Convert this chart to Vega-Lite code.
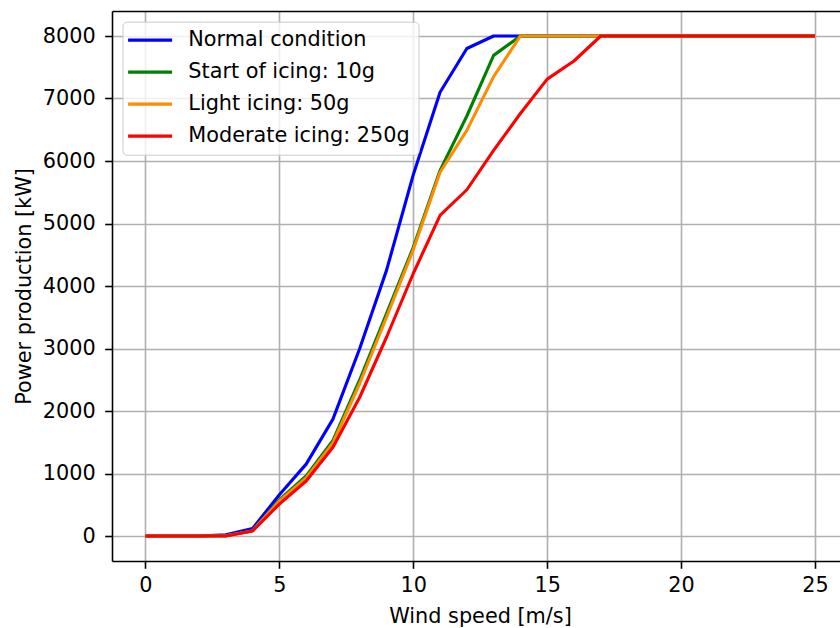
{
  "$schema": "https://vega.github.io/schema/vega-lite/v6.json",
  "autosize": {"type": "none"},
  "padding": {"left": 112, "top": 11, "right": 0, "bottom": 67},
  "width": 728,
  "height": 550,
  "background": "white",
  "config": {
    "view": {"stroke": null},
    "font": "DejaVu Sans",
    "axis": {
      "labelFont": "DejaVu Sans", "labelFontSize": 20.8, "labelColor": "black",
      "titleFont": "DejaVu Sans", "titleFontSize": 20.8, "titleFontWeight": "normal", "titleColor": "black",
      "tickColor": "black", "tickWidth": 1.6, "tickSize": 7.3,
      "domainColor": "black", "domainWidth": 1.6,
      "gridColor": "#b0b0b0", "gridWidth": 1.6
    },
    "legend": {
      "labelFont": "DejaVu Sans", "labelFontSize": 20.8, "labelColor": "black", "labelLimit": 400
    }
  },
  "data": {"values": [
    {"wind": 0, "power": 0, "curve": "Normal condition"},
    {"wind": 1, "power": 0, "curve": "Normal condition"},
    {"wind": 2, "power": 0, "curve": "Normal condition"},
    {"wind": 3, "power": 20, "curve": "Normal condition"},
    {"wind": 4, "power": 120, "curve": "Normal condition"},
    {"wind": 5, "power": 660, "curve": "Normal condition"},
    {"wind": 6, "power": 1150, "curve": "Normal condition"},
    {"wind": 7, "power": 1870, "curve": "Normal condition"},
    {"wind": 8, "power": 3000, "curve": "Normal condition"},
    {"wind": 9, "power": 4250, "curve": "Normal condition"},
    {"wind": 10, "power": 5780, "curve": "Normal condition"},
    {"wind": 11, "power": 7100, "curve": "Normal condition"},
    {"wind": 12, "power": 7800, "curve": "Normal condition"},
    {"wind": 13, "power": 8000, "curve": "Normal condition"},
    {"wind": 14, "power": 8000, "curve": "Normal condition"},
    {"wind": 15, "power": 8000, "curve": "Normal condition"},
    {"wind": 16, "power": 8000, "curve": "Normal condition"},
    {"wind": 17, "power": 8000, "curve": "Normal condition"},
    {"wind": 18, "power": 8000, "curve": "Normal condition"},
    {"wind": 19, "power": 8000, "curve": "Normal condition"},
    {"wind": 20, "power": 8000, "curve": "Normal condition"},
    {"wind": 21, "power": 8000, "curve": "Normal condition"},
    {"wind": 22, "power": 8000, "curve": "Normal condition"},
    {"wind": 23, "power": 8000, "curve": "Normal condition"},
    {"wind": 24, "power": 8000, "curve": "Normal condition"},
    {"wind": 25, "power": 8000, "curve": "Normal condition"},
    {"wind": 0, "power": 0, "curve": "Start of icing: 10g"},
    {"wind": 1, "power": 0, "curve": "Start of icing: 10g"},
    {"wind": 2, "power": 0, "curve": "Start of icing: 10g"},
    {"wind": 3, "power": 5, "curve": "Start of icing: 10g"},
    {"wind": 4, "power": 85, "curve": "Start of icing: 10g"},
    {"wind": 5, "power": 580, "curve": "Start of icing: 10g"},
    {"wind": 6, "power": 960, "curve": "Start of icing: 10g"},
    {"wind": 7, "power": 1530, "curve": "Start of icing: 10g"},
    {"wind": 8, "power": 2500, "curve": "Start of icing: 10g"},
    {"wind": 9, "power": 3560, "curve": "Start of icing: 10g"},
    {"wind": 10, "power": 4620, "curve": "Start of icing: 10g"},
    {"wind": 11, "power": 5850, "curve": "Start of icing: 10g"},
    {"wind": 12, "power": 6720, "curve": "Start of icing: 10g"},
    {"wind": 13, "power": 7690, "curve": "Start of icing: 10g"},
    {"wind": 14, "power": 8000, "curve": "Start of icing: 10g"},
    {"wind": 15, "power": 8000, "curve": "Start of icing: 10g"},
    {"wind": 16, "power": 8000, "curve": "Start of icing: 10g"},
    {"wind": 17, "power": 8000, "curve": "Start of icing: 10g"},
    {"wind": 18, "power": 8000, "curve": "Start of icing: 10g"},
    {"wind": 19, "power": 8000, "curve": "Start of icing: 10g"},
    {"wind": 20, "power": 8000, "curve": "Start of icing: 10g"},
    {"wind": 21, "power": 8000, "curve": "Start of icing: 10g"},
    {"wind": 22, "power": 8000, "curve": "Start of icing: 10g"},
    {"wind": 23, "power": 8000, "curve": "Start of icing: 10g"},
    {"wind": 24, "power": 8000, "curve": "Start of icing: 10g"},
    {"wind": 25, "power": 8000, "curve": "Start of icing: 10g"},
    {"wind": 0, "power": 0, "curve": "Light icing: 50g"},
    {"wind": 1, "power": 0, "curve": "Light icing: 50g"},
    {"wind": 2, "power": 0, "curve": "Light icing: 50g"},
    {"wind": 3, "power": 5, "curve": "Light icing: 50g"},
    {"wind": 4, "power": 80, "curve": "Light icing: 50g"},
    {"wind": 5, "power": 560, "curve": "Light icing: 50g"},
    {"wind": 6, "power": 930, "curve": "Light icing: 50g"},
    {"wind": 7, "power": 1490, "curve": "Light icing: 50g"},
    {"wind": 8, "power": 2440, "curve": "Light icing: 50g"},
    {"wind": 9, "power": 3500, "curve": "Light icing: 50g"},
    {"wind": 10, "power": 4580, "curve": "Light icing: 50g"},
    {"wind": 11, "power": 5820, "curve": "Light icing: 50g"},
    {"wind": 12, "power": 6490, "curve": "Light icing: 50g"},
    {"wind": 13, "power": 7350, "curve": "Light icing: 50g"},
    {"wind": 14, "power": 8000, "curve": "Light icing: 50g"},
    {"wind": 15, "power": 8000, "curve": "Light icing: 50g"},
    {"wind": 16, "power": 8000, "curve": "Light icing: 50g"},
    {"wind": 17, "power": 8000, "curve": "Light icing: 50g"},
    {"wind": 18, "power": 8000, "curve": "Light icing: 50g"},
    {"wind": 19, "power": 8000, "curve": "Light icing: 50g"},
    {"wind": 20, "power": 8000, "curve": "Light icing: 50g"},
    {"wind": 21, "power": 8000, "curve": "Light icing: 50g"},
    {"wind": 22, "power": 8000, "curve": "Light icing: 50g"},
    {"wind": 23, "power": 8000, "curve": "Light icing: 50g"},
    {"wind": 24, "power": 8000, "curve": "Light icing: 50g"},
    {"wind": 25, "power": 8000, "curve": "Light icing: 50g"},
    {"wind": 0, "power": 0, "curve": "Moderate icing: 250g"},
    {"wind": 1, "power": 0, "curve": "Moderate icing: 250g"},
    {"wind": 2, "power": 0, "curve": "Moderate icing: 250g"},
    {"wind": 3, "power": 0, "curve": "Moderate icing: 250g"},
    {"wind": 4, "power": 80, "curve": "Moderate icing: 250g"},
    {"wind": 5, "power": 510, "curve": "Moderate icing: 250g"},
    {"wind": 6, "power": 880, "curve": "Moderate icing: 250g"},
    {"wind": 7, "power": 1420, "curve": "Moderate icing: 250g"},
    {"wind": 8, "power": 2220, "curve": "Moderate icing: 250g"},
    {"wind": 9, "power": 3180, "curve": "Moderate icing: 250g"},
    {"wind": 10, "power": 4200, "curve": "Moderate icing: 250g"},
    {"wind": 11, "power": 5130, "curve": "Moderate icing: 250g"},
    {"wind": 12, "power": 5540, "curve": "Moderate icing: 250g"},
    {"wind": 13, "power": 6170, "curve": "Moderate icing: 250g"},
    {"wind": 14, "power": 6760, "curve": "Moderate icing: 250g"},
    {"wind": 15, "power": 7310, "curve": "Moderate icing: 250g"},
    {"wind": 16, "power": 7600, "curve": "Moderate icing: 250g"},
    {"wind": 17, "power": 8000, "curve": "Moderate icing: 250g"},
    {"wind": 18, "power": 8000, "curve": "Moderate icing: 250g"},
    {"wind": 19, "power": 8000, "curve": "Moderate icing: 250g"},
    {"wind": 20, "power": 8000, "curve": "Moderate icing: 250g"},
    {"wind": 21, "power": 8000, "curve": "Moderate icing: 250g"},
    {"wind": 22, "power": 8000, "curve": "Moderate icing: 250g"},
    {"wind": 23, "power": 8000, "curve": "Moderate icing: 250g"},
    {"wind": 24, "power": 8000, "curve": "Moderate icing: 250g"},
    {"wind": 25, "power": 8000, "curve": "Moderate icing: 250g"}
  ]},
  "layer": [
    {
      "mark": {"type": "line", "strokeWidth": 3.1, "strokeJoin": "round"},
      "encoding": {
        "x": {
          "field": "wind", "type": "quantitative",
          "scale": {"domain": [-1.25, 25.934], "nice": false, "zero": false},
          "axis": {"title": "Wind speed [m/s]", "format": "d", "values": [0, 5, 10, 15, 20, 25], "labelPadding": 7, "titlePadding": 11.5, "titleX": 368, "titleAnchor": "middle"}
        },
        "y": {
          "field": "power", "type": "quantitative",
          "scale": {"domain": [-400, 8400], "nice": false, "zero": false},
          "axis": {"title": "Power production [kW]", "format": "d", "values": [0, 1000, 2000, 3000, 4000, 5000, 6000, 7000, 8000], "labelPadding": 9.5, "titlePadding": 8}
        },
        "color": {
          "field": "curve", "type": "nominal",
          "scale": {
            "domain": ["Normal condition", "Start of icing: 10g", "Light icing: 50g", "Moderate icing: 250g"],
            "range": ["#0000ff", "#008000", "#ff8c00", "#ff0000"]
          },
          "legend": {
            "title": null, "orient": "none", "legendX": 10.5, "legendY": 10.7,
            "padding": 8, "fillColor": "rgba(255,255,255,0.8)", "strokeColor": "#cccccc", "cornerRadius": 4,
            "symbolType": "M-1.6,0H3.9", "symbolSize": 256, "symbolStrokeWidth": 3.1, "rowPadding": 10, "labelOffset": 37
          }
        }
      }
    },
    {
      "mark": {"type": "line", "opacity": 0},
      "encoding": {
        "x": {
          "field": "wind", "type": "quantitative",
          "axis": {"orient": "top", "labels": false, "ticks": false, "grid": false, "title": null, "domain": true}
        },
        "y": {"field": "power", "type": "quantitative", "axis": null}
      }
    }
  ],
  "resolve": {"axis": {"x": "independent", "y": "independent"}}
}
